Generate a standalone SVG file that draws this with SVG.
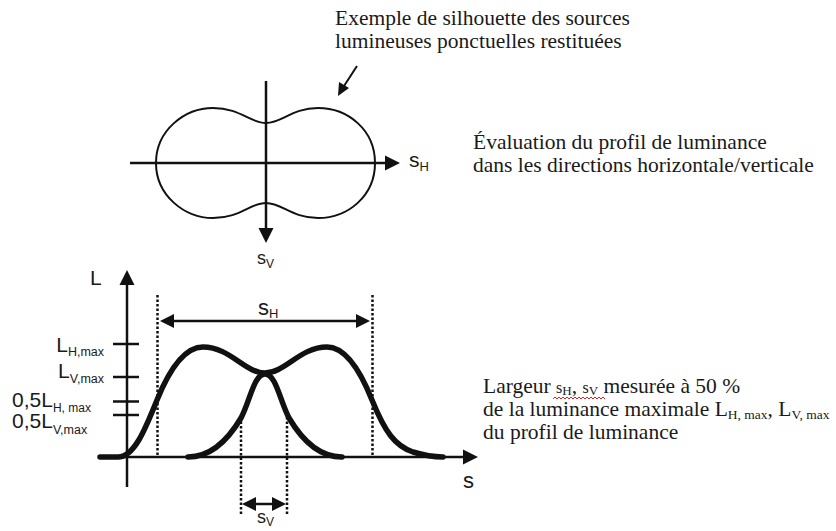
<svg xmlns="http://www.w3.org/2000/svg" width="836" height="531" viewBox="0 0 836 531">
<style>
.ser{font-family:"Liberation Serif","Times New Roman",serif;font-size:21.5px;fill:#1a1a1a}
.san{font-family:"Liberation Sans",Arial,sans-serif;fill:#1a1a1a}
.ax{stroke:#111;stroke-width:2.5;fill:none}
.thin{stroke:#111;stroke-width:2;fill:none}
.thick{stroke:#111;stroke-width:5.5;fill:none;stroke-linejoin:round;stroke-linecap:round}
.dot{stroke:#111;stroke-width:2.5;stroke-dasharray:2.5 2;fill:none}
.head{fill:#111}
</style>
<rect width="836" height="531" fill="#fff"/>

<g id="caption-top">
<text class="ser" x="335" y="25">Exemple de silhouette des sources</text>
<text class="ser" x="335" y="48">lumineuses ponctuelles restituées</text>
</g>
<g id="caption-eval">
<text class="ser" x="473" y="149">Évaluation du profil de luminance</text>
<text class="ser" x="473" y="172">dans les directions horizontale/verticale</text>
</g>
<g id="caption-width">
<text class="ser" x="483" y="393">Largeur <tspan font-size="16">s</tspan><tspan font-size="13" dy="2">H</tspan><tspan dy="-2">, </tspan><tspan font-size="16">s</tspan><tspan font-size="13" dy="2">V</tspan><tspan dy="-2"> mesurée à 50 %</tspan></text>
<path d="M553 399 l2 -2 l2 2 l2 -2 l2 2 l2 -2 l2 2 l2 -2 l2 2 l2 -2 l2 2 l2 -2 l2 2 M577 399 l2 -2 l2 2 l2 -2 l2 2 l2 -2 l2 2 l2 -2 l2 2 l2 -2 l2 2 l2 -2 l2 2 l2 -2 l2 2" stroke="#d22" stroke-width="1" fill="none"/>
<text class="ser" x="483" y="416">de la luminance maximale L<tspan font-size="13.5" dy="3">H, max</tspan><tspan dy="-3">, L</tspan><tspan font-size="13.5" dy="3">V, max</tspan></text>
<text class="ser" x="483" y="439">du profil de luminance</text>
</g>

<g id="silhouette">
<path class="thin" d="M156 163 C156 130,185 108,213 108 C240 108,250 123,266 123 C282 123,292 108,318 108 C348 108,375 130,375 163 C375 196,348 218,318 218 C292 218,282 203,266 203 C250 203,240 218,213 218 C185 218,156 196,156 163 Z"/>
</g>

<g id="connectors">
<line class="thin" x1="357" y1="66" x2="344" y2="86"/>
<polygon class="head" points="338,96 339,82 349,88"/>
<line class="ax" x1="130" y1="163" x2="386" y2="163"/>
<polygon class="head" points="400,163 385,155.5 385,170.5"/>
<line class="ax" x1="266" y1="81" x2="266" y2="229"/>
<polygon class="head" points="266,243 258.5,228 273.5,228"/>
<line class="ax" x1="98" y1="457" x2="464" y2="457"/>
<polygon class="head" points="478,457 463,449.5 463,464.5"/>
<line class="ax" x1="127" y1="487" x2="127" y2="284"/>
<polygon class="head" points="127,270 119.5,285 134.5,285"/>
<line class="ax" x1="113" y1="344" x2="139" y2="344"/>
<line class="ax" x1="113" y1="377" x2="139" y2="377"/>
<line class="ax" x1="113" y1="401.5" x2="139" y2="401.5"/>
<line class="ax" x1="113" y1="415" x2="139" y2="415"/>
<line class="dot" x1="157.5" y1="295" x2="157.5" y2="457"/>
<line class="dot" x1="372.5" y1="295" x2="372.5" y2="457"/>
<line class="dot" x1="241" y1="417" x2="241" y2="515"/>
<line class="dot" x1="287" y1="417" x2="287" y2="515"/>
<line class="ax" x1="170" y1="321" x2="358" y2="321"/>
<polygon class="head" points="160,321 174,314 174,328"/>
<polygon class="head" points="370,321 356,314 356,328"/>
<line class="ax" x1="252" y1="504" x2="275" y2="504"/>
<polygon class="head" points="242,504 256,497 256,511"/>
<polygon class="head" points="286,504 272,497 272,511"/>
<path class="thick" d="M100 457 L118 457 C134 457,145 430,157 400 C170 368,185 347,203 347 C230 347,245 373,265 373 C285 373,300 347,327 347 C345 347,360 370,372 400 C385 432,395 446,413 452 C426 456,436 457,443 457"/>
<path class="thick" d="M188 457 C210 457,228 440,241 418 C250 401,254 374,265 374 C276 374,280 401,289 418 C302 440,320 457,342 457"/>
</g>

<g id="labels">
<text class="san" x="409" y="167" font-size="21">s<tspan font-size="13" dy="4">H</tspan></text>
<text class="san" x="257" y="264" font-size="18">s<tspan font-size="12" dy="4">V</tspan></text>
<text class="san" x="90" y="285" font-size="21">L</text>
<text class="san" x="463" y="488" font-size="22">s</text>
<text class="san" x="258" y="315" font-size="22">s<tspan font-size="13" dy="3">H</tspan></text>
<text class="san" x="257" y="523" font-size="18">s<tspan font-size="12" dy="3">V</tspan></text>
<text class="san" x="104" y="352" font-size="21" text-anchor="end">L<tspan font-size="12.5" dy="4">H,max</tspan></text>
<text class="san" x="104" y="378" font-size="21" text-anchor="end">L<tspan font-size="12.5" dy="5">V,max</tspan></text>
<text class="san" x="12" y="407" font-size="21">0,5L<tspan font-size="12" dy="5">H, max</tspan></text>
<text class="san" x="12" y="428" font-size="21">0,5L<tspan font-size="12.5" dy="6">V,max</tspan></text>
</g>
</svg>
